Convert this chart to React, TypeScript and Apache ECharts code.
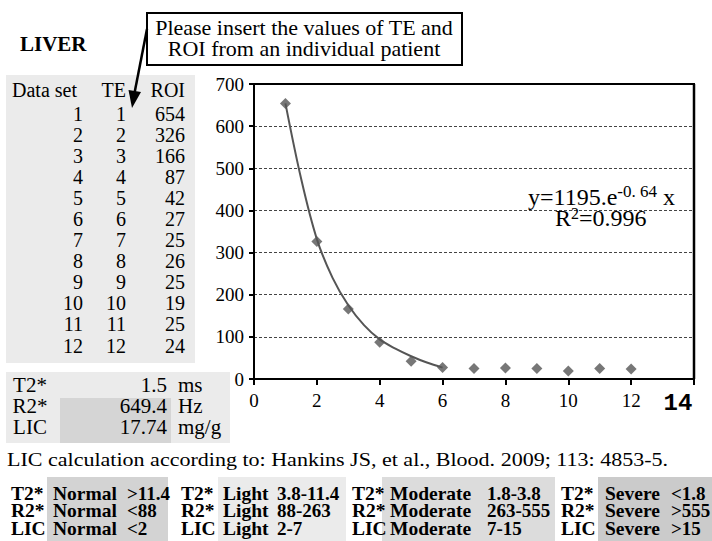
import React, { useEffect, useRef } from 'react';
import * as echarts from 'echarts';

// ---------- data ----------
const title = 'LIVER';
const calloutLines = ['Please insert the values of TE and', 'ROI from an individual patient'];
const tableHeaders = ['Data set', 'TE', 'ROI'];
const dataSetIds = [1, 2, 3, 4, 5, 6, 7, 8, 9, 10, 11, 12];
const teValues = [1, 2, 3, 4, 5, 6, 7, 8, 9, 10, 11, 12];
const roiValues = [654, 326, 166, 87, 42, 27, 25, 26, 25, 19, 25, 24];
// fitted trend curve
const trendX = [1, 1.5, 2, 2.5, 3, 3.5, 4, 4.5, 5, 5.5, 6];
const trendY = [654, 475, 332, 240, 175, 128, 94, 72, 54, 39, 27];
const xMin = 0;
const xMax = 14;
const xInterval = 2;
const yMin = 0;
const yMax = 700;
const yInterval = 100;
const resultLabels = ['T2*', 'R2*', 'LIC'];
const resultValues = ['1.5', '649.4', '17.74'];
const resultUnits = ['ms', 'Hz', 'mg/g'];
const citation = 'LIC calculation according to: Hankins JS, et al., Blood. 2009; 113: 4853-5.';
const severityNames = ['Normal', 'Light', 'Moderate', 'Severe'];
const t2Ranges = ['>11.4', '3.8-11.4', '1.8-3.8', '<1.8'];
const r2Ranges = ['<88', '88-263', '263-555', '>555'];
const licRanges = ['<2', '2-7', '7-15', '>15'];
const eqMain = 'y=1195.e';
const eqExp = '-0. 64';
const eqVar = 'x';
const r2Text = ['R', '2', '=0.996'];

// ---------- styling / layout ----------
const SERIF = 'Liberation Serif, Times New Roman, serif';
const MONO = 'Liberation Mono, Courier New, monospace';
const GRID = { left: 254, top: 84, right: 18, bottom: 162 };

function txt(
  x: number,
  y: number,
  text: string,
  size: number,
  align = 'left',
  bold = false,
  lineHeight?: number,
  extra: any = {},
  rich?: any
) {
  const style: any = {
    text,
    fill: '#000',
    fontFamily: SERIF,
    fontSize: size,
    fontWeight: bold ? 'bold' : 'normal',
    lineHeight: lineHeight || size,
    textAlign: align,
    textVerticalAlign: 'middle',
    align,
    verticalAlign: 'middle',
  };
  if (rich) style.rich = rich;
  return { type: 'text', x, y, z: 20, ...extra, style };
}

function rect(x: number, y: number, w: number, h: number, fill: string, z = 1, stroke?: string, lw = 0) {
  return {
    type: 'rect',
    z,
    shape: { x, y, width: w, height: h },
    style: stroke ? { fill, stroke, lineWidth: lw } : { fill },
  };
}

function buildGraphics() {
  const g: any[] = [];
  // title
  g.push(txt(20, 44, title, 21, 'left', true));
  // callout box
  g.push(rect(147, 13, 315, 52, '#fff', 5, '#000', 2));
  g.push(txt(304, 37.5, calloutLines.join('\n'), 22, 'center', false, 21));
  // arrow
  g.push({ type: 'line', z: 30, shape: { x1: 147, y1: 29, x2: 134.5, y2: 93 }, style: { stroke: '#000', lineWidth: 2.5 } });
  g.push({ type: 'polygon', z: 30, shape: { points: [[132, 108], [141, 92], [128.5, 90]] }, style: { fill: '#000' } });

  // left data table
  g.push(rect(6, 75, 189, 288, '#ebebeb', 1));
  g.push(txt(12, 89.5, tableHeaders[0], 20, 'left', false, 20));
  g.push(txt(126, 89.5, tableHeaders[1], 20, 'right', false, 20));
  g.push(txt(185, 89.5, tableHeaders[2], 20, 'right', false, 20));
  const rowPitch = 21.1;
  const rowsCenter = 113.5 + ((dataSetIds.length - 1) * rowPitch) / 2;
  g.push(txt(83, rowsCenter, dataSetIds.map(String).join('\n'), 20, 'right', false, rowPitch));
  g.push(txt(126, rowsCenter, teValues.map(String).join('\n'), 20, 'right', false, rowPitch));
  g.push(txt(185, rowsCenter, roiValues.map(String).join('\n'), 20, 'right', false, rowPitch));

  // results panel
  g.push(rect(6, 372, 224, 71, '#ebebeb', 1));
  g.push(rect(60, 398, 111, 45, '#d5d5d5', 2));
  const resCenter = 405.75;
  const resPitch = 20.75;
  g.push(txt(30, resCenter, resultLabels.join('\n'), 21, 'center', false, resPitch));
  g.push(txt(167, resCenter, resultValues.join('\n'), 21, 'right', false, resPitch));
  g.push(txt(178, resCenter, resultUnits.join('\n'), 21, 'left', false, resPitch));

  // citation
  g.push(txt(7, 460, citation, 19, 'left', false, 19, { scaleX: 1.16 }));

  // severity legend
  const boxX = [47, 218, 382, 598];
  const boxW = [121, 128, 173, 114];
  const boxFill = ['#d3d3d3', '#ebebeb', '#dcdcdc', '#cbcbcb'];
  const labX = [11, 181, 352, 561];
  const nameX = [53, 223, 390, 605];
  const rangeX = [127, 277, 487, 671];
  const legCenter = 510.5;
  const legPitch = 17.5;
  severityNames.forEach((name, k) => {
    g.push(rect(boxX[k], 477, boxW[k], 64, boxFill[k], 1));
    g.push(txt(labX[k], legCenter, resultLabels.join('\n'), 19.5, 'left', true, legPitch));
    g.push(txt(nameX[k], legCenter, [name, name, name].join('\n'), 19.5, 'left', true, legPitch));
    g.push(
      txt(rangeX[k], legCenter, [t2Ranges[k], r2Ranges[k], licRanges[k]].join('\n'), 19, 'left', true, legPitch)
    );
  });

  // equation (rich text with superscripts)
  const eqRich = {
    n: { fontFamily: SERIF, fontSize: 24, lineHeight: 28, color: '#000' },
    s: { fontFamily: SERIF, fontSize: 17, lineHeight: 17, color: '#000', verticalAlign: 'top' },
  };
  g.push(
    txt(528, 197, `{n|${eqMain}}{s|${eqExp}}{n| ${eqVar}}`, 24, 'left', false, 28, {}, eqRich)
  );
  const r2Rich = {
    n: { fontFamily: SERIF, fontSize: 24, lineHeight: 26, color: '#000' },
    s: { fontFamily: SERIF, fontSize: 16, lineHeight: 16, color: '#000', verticalAlign: 'top' },
  };
  g.push(txt(555, 218, `{n|${r2Text[0]}}{s|${r2Text[1]}}{n|${r2Text[2]}}`, 24, 'left', false, 26, {}, r2Rich));

  // plot frame (top & right)
  const right = 712 - GRID.right;
  const bottom = 541 - GRID.bottom;
  g.push({ type: 'line', z: 100, shape: { x1: GRID.left, y1: GRID.top, x2: right + 1, y2: GRID.top }, style: { stroke: '#000', lineWidth: 2 } });
  g.push({ type: 'line', z: 100, shape: { x1: right, y1: GRID.top, x2: right, y2: bottom }, style: { stroke: '#000', lineWidth: 2.5 } });
  return g;
}

const option: any = {
  animation: false,
  backgroundColor: '#fff',
  grid: { ...GRID, containLabel: false },
  xAxis: {
    type: 'value',
    min: xMin,
    max: xMax,
    interval: xInterval,
    axisLine: { show: true, onZero: false, lineStyle: { color: '#000', width: 2 } },
    axisTick: { show: true, inside: false, length: 6, lineStyle: { color: '#000', width: 2 } },
    splitLine: { show: false },
    axisLabel: {
      margin: 12,
      color: '#000',
      fontFamily: SERIF,
      fontSize: 19,
      formatter: (v: number) => (v === xMax ? '{b|' + v + '}' : String(v)),
      rich: {
        b: { fontFamily: MONO, fontWeight: 'bold', fontSize: 24, color: '#000', padding: [0, 32, 0, 0] },
      },
    },
  },
  yAxis: {
    type: 'value',
    min: yMin,
    max: yMax,
    interval: yInterval,
    axisLine: { show: true, lineStyle: { color: '#000', width: 2 } },
    axisTick: { show: true, inside: false, length: 5, lineStyle: { color: '#000', width: 2 } },
    splitLine: { show: true, lineStyle: { color: '#444', width: 1, type: [3, 2] } },
    axisLabel: { margin: 10, color: '#000', fontFamily: SERIF, fontSize: 19 },
  },
  series: [
    {
      type: 'line',
      data: trendX.map((x, i) => [x, trendY[i]]),
      smooth: 0.35,
      showSymbol: false,
      symbol: 'none',
      lineStyle: { color: '#555', width: 2 },
      z: 2,
    },
    {
      type: 'scatter',
      data: teValues.map((x, i) => [x, roiValues[i]]),
      symbol: 'diamond',
      symbolSize: 11,
      itemStyle: { color: '#555' },
      z: 3,
    },
  ],
  graphic: { elements: buildGraphics() },
};

export default function App() {
  const ref = useRef<HTMLDivElement>(null);
  useEffect(() => {
    document.body.style.margin = '0';
    const chart = echarts.init(ref.current as HTMLDivElement, null, { renderer: 'svg' });
    chart.setOption(option);
    return () => chart.dispose();
  }, []);
  return (
    <div
      ref={ref}
      style={{ position: 'fixed', left: 0, top: 0, width: 712, height: 541, background: '#fff' }}
    />
  );
}
